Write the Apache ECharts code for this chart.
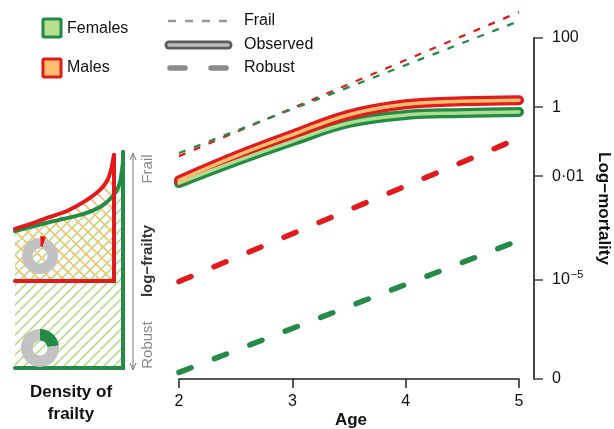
<!DOCTYPE html>
<html>
<head>
<meta charset="utf-8">
<script src="https://cdn.jsdelivr.net/npm/echarts@6/dist/echarts.min.js"></script>
<style>html,body{margin:0;padding:0;background:#fff}#c{width:614px;height:429px}</style>
</head>
<body>
<div id="c"></div>
<script>
// ---- data (log10 mortality) ----
const ages = [2, 2.5, 3, 3.5, 4, 4.5, 5];
const observedMales = [-2.12, -1.42, -0.80, -0.22, 0.08, 0.17, 0.20];
const observedFemales = [-2.20, -1.57, -0.99, -0.46, -0.23, -0.17, -0.14];
const frailAges = [2, 5];
const frailMales = [-1.42, 2.75];
const frailFemales = [-1.33, 2.49];
const robustMales = [-5.05, -0.90];
const robustFemales = [-7.68, -3.86];
const yTickValues = [2, 0, -2, -5, -7.87];
const yTickLabels = ['100', '1', '0·01', '10^-5', '0'];
const xTickLabels = ['2', '3', '4', '5'];
// inset: density of frailty (x: density, y: log-frailty, both 0..1)
const maleCurveX = [0, 0.164, 0.318, 0.473, 0.655, 0.773, 0.836, 0.873, 0.891, 0.9];
const maleCurveY = [0.638, 0.665, 0.693, 0.720, 0.771, 0.817, 0.858, 0.908, 0.954, 0.977];
const maleFloor = 0.399;
const femaleCurveX = [0, 0.318, 0.618, 0.773, 0.864, 0.927, 0.955, 0.973, 0.982, 0.982];
const femaleCurveY = [0.628, 0.670, 0.706, 0.739, 0.775, 0.817, 0.853, 0.908, 0.954, 0.991];
const femaleFloor = 0;
const malePie = [5, 95];     // share frail / rest
const femalePie = [23, 77];

const RED = '#e31a1c', GREEN = '#238b45', LORANGE = '#fdbf6f', LGREEN = '#addd8e';

function zip(xs, ys) { return xs.map((x, i) => [x, ys[i]]); }
function hatch(color, spacing, dir, w) {
  const c = document.createElement('canvas');
  c.width = spacing; c.height = spacing;
  const g = c.getContext('2d');
  g.strokeStyle = color; g.lineWidth = w;
  for (let k = -1; k <= 1; k++) {
    g.beginPath();
    if (dir > 0) { g.moveTo(k * spacing, spacing); g.lineTo(k * spacing + spacing, 0); }
    else { g.moveTo(k * spacing, 0); g.lineTo(k * spacing + spacing, spacing); }
    g.stroke();
  }
  return { image: c, repeat: 'repeat' };
}

const chart = echarts.init(document.getElementById('c'), null, { renderer: 'canvas' });
const FONT = 'Liberation Sans, Arial, Helvetica, sans-serif';

function obsSeries(data, outer, inner) {
  return [
    { type: 'line', xAxisIndex: 0, yAxisIndex: 0, data: data, smooth: 0.4, symbol: 'none', clip: false,
      lineStyle: { color: outer, width: 10, cap: 'round', join: 'round' }, z: 5 },
    { type: 'line', xAxisIndex: 0, yAxisIndex: 0, data: data, smooth: 0.4, symbol: 'none', clip: false,
      lineStyle: { color: inner, width: 3.5, cap: 'round', join: 'round' }, z: 6 }
  ];
}
function dashSeries(data, color, width, dash, cap) {
  return { type: 'line', xAxisIndex: 0, yAxisIndex: 0, data: data, symbol: 'none', clip: false,
    lineStyle: { color: color, width: width, type: dash, cap: cap }, z: 4 };
}
const last = a => a[a.length - 1];

const series = [
  dashSeries(zip(frailAges, frailMales), RED, 2.3, [7, 9], 'butt'),
  dashSeries(zip(frailAges, frailFemales), GREEN, 2.3, [7, 9], 'butt'),
  dashSeries(zip(frailAges, robustMales), RED, 5.5, [13, 25], 'round'),
  dashSeries(zip(frailAges, robustFemales), GREEN, 5.5, [13, 25], 'round'),
  ...obsSeries(zip(ages, observedFemales), GREEN, LGREEN),
  ...obsSeries(zip(ages, observedMales), RED, LORANGE),
  // inset areas
  { type: 'line', xAxisIndex: 1, yAxisIndex: 1, data: zip(femaleCurveX, femaleCurveY), symbol: 'none', smooth: 0.2,
    lineStyle: { width: 0, opacity: 0 }, areaStyle: { color: hatch('#b3dd8c', 10, 1, 1.6), opacity: 1, origin: 'start' }, z: 1 },
  { type: 'line', xAxisIndex: 1, yAxisIndex: 1, data: zip(maleCurveX, maleCurveY), symbol: 'none', smooth: 0.2,
    lineStyle: { width: 0, opacity: 0 }, areaStyle: { color: hatch('#fdbf6f', 12, -1, 1.8), opacity: 1, origin: maleFloor }, z: 2 },
  // inset outlines
  { type: 'line', xAxisIndex: 1, yAxisIndex: 1, symbol: 'none', smooth: 0.2, clip: false,
    data: zip(femaleCurveX, femaleCurveY),
    lineStyle: { color: GREEN, width: 4, cap: 'round', join: 'round' }, z: 3 },
  { type: 'line', xAxisIndex: 1, yAxisIndex: 1, symbol: 'none', clip: false,
    data: [[last(femaleCurveX), last(femaleCurveY)], [last(femaleCurveX), femaleFloor], [0, femaleFloor]],
    lineStyle: { color: GREEN, width: 4, cap: 'round', join: 'miter' }, z: 3 },
  { type: 'line', xAxisIndex: 1, yAxisIndex: 1, symbol: 'none', smooth: 0.2, clip: false,
    data: zip(maleCurveX, maleCurveY),
    lineStyle: { color: RED, width: 4, cap: 'round', join: 'round' }, z: 4 },
  { type: 'line', xAxisIndex: 1, yAxisIndex: 1, symbol: 'none', clip: false,
    data: [[last(maleCurveX), last(maleCurveY)], [last(maleCurveX), maleFloor], [0, maleFloor]],
    lineStyle: { color: RED, width: 4, cap: 'round', join: 'miter' }, z: 4 },
  // donuts
  { type: 'pie', center: [40, 256], radius: [7.5, 18], startAngle: 90, clockwise: true,
    label: { show: false }, labelLine: { show: false }, silent: true, animation: false,
    selectedMode: 'single', selectedOffset: 2,
    data: [{ value: malePie[0], itemStyle: { color: RED }, selected: true }, { value: malePie[1], itemStyle: { color: '#c2c2c2' } }], z: 6 },
  { type: 'pie', center: [40, 348], radius: [7.5, 19], startAngle: 90, clockwise: true,
    label: { show: false }, labelLine: { show: false }, silent: true, animation: false,
    data: [{ value: femalePie[0], itemStyle: { color: GREEN } }, { value: femalePie[1], itemStyle: { color: '#c2c2c2' } }], z: 6 }
];

function fmtY(v) {
  for (let i = 0; i < yTickValues.length; i++) {
    if (Math.abs(v - yTickValues[i]) < 1e-6) {
      const t = yTickLabels[i];
      if (t.indexOf('^') >= 0) { const p = t.split('^'); return '{n|' + p[0] + '}{s|' + p[1].replace('-', '−') + '}'; }
      return '{n|' + t + '}';
    }
  }
  return '';
}

const gray = '#8a8a8a';
const graphic = [
  // legend boxes
  { type: 'rect', shape: { x: 43, y: 19, width: 18, height: 18, r: 1 }, style: { fill: '#b7e08f', stroke: GREEN, lineWidth: 3 } },
  { type: 'text', x: 67, y: 29, style: { text: 'Females', font: '16px ' + FONT, fill: '#111', verticalAlign: 'middle' } },
  { type: 'rect', shape: { x: 43, y: 59, width: 18, height: 18, r: 1 }, style: { fill: LORANGE, stroke: RED, lineWidth: 3 } },
  { type: 'text', x: 67, y: 68, style: { text: 'Males', font: '16px ' + FONT, fill: '#111', verticalAlign: 'middle' } },
  // legend lines
  { type: 'line', shape: { x1: 168, y1: 21, x2: 228, y2: 21 }, style: { stroke: '#999', lineWidth: 2.3, lineDash: [8, 9] } },
  { type: 'text', x: 244, y: 21, style: { text: 'Frail', font: '16px ' + FONT, fill: '#111', verticalAlign: 'middle' } },
  { type: 'line', shape: { x1: 169, y1: 45, x2: 228, y2: 45 }, style: { stroke: '#5a5a5a', lineWidth: 9, lineCap: 'round' } },
  { type: 'line', shape: { x1: 169, y1: 45, x2: 228, y2: 45 }, style: { stroke: '#bdbdbd', lineWidth: 3.5, lineCap: 'round' } },
  { type: 'text', x: 244, y: 45, style: { text: 'Observed', font: '16px ' + FONT, fill: '#111', verticalAlign: 'middle' } },
  { type: 'line', shape: { x1: 170, y1: 68, x2: 228, y2: 68 }, style: { stroke: gray, lineWidth: 5.5, lineCap: 'round', lineDash: [15, 26] } },
  { type: 'text', x: 244, y: 68, style: { text: 'Robust', font: '16px ' + FONT, fill: '#111', verticalAlign: 'middle' } },
  // x axis title
  { type: 'text', x: 351, y: 420, style: { text: 'Age', font: 'bold 17px ' + FONT, fill: '#111', align: 'center', verticalAlign: 'middle' } },
  // inset arrow
  { type: 'line', shape: { x1: 133, y1: 153, x2: 133, y2: 370 }, style: { stroke: '#777', lineWidth: 1 } },
  { type: 'polyline', shape: { points: [[130, 160], [133, 153], [136, 160]] }, style: { stroke: '#777', lineWidth: 1, fill: null } },
  { type: 'polyline', shape: { points: [[130, 363], [133, 370], [136, 363]] }, style: { stroke: '#777', lineWidth: 1, fill: null } },
  { type: 'text', x: 148, y: 169, rotation: Math.PI / 2, style: { text: 'Frail', font: '15px ' + FONT, fill: '#888', align: 'center', verticalAlign: 'middle' } },
  { type: 'text', x: 148, y: 261, rotation: Math.PI / 2, style: { text: 'log−frailty', font: 'bold 15px ' + FONT, fill: '#333', align: 'center', verticalAlign: 'middle' } },
  { type: 'text', x: 148, y: 345, rotation: Math.PI / 2, style: { text: 'Robust', font: '15px ' + FONT, fill: '#888', align: 'center', verticalAlign: 'middle' } },
  { type: 'text', x: 71, y: 392, style: { text: 'Density of', font: 'bold 17px ' + FONT, fill: '#111', align: 'center', verticalAlign: 'middle' } },
  { type: 'text', x: 71, y: 414, style: { text: 'frailty', font: 'bold 17px ' + FONT, fill: '#111', align: 'center', verticalAlign: 'middle' } }
];

chart.setOption({
  animation: false,
  grid: [
    { left: 179, right: 95, top: 38, bottom: 50, outerBoundsMode: 'none', containLabel: false },
    { left: 15, width: 110, top: 150, height: 218, outerBoundsMode: 'none', containLabel: false }
  ],
  xAxis: [
    { type: 'value', gridIndex: 0, min: 2, max: 5, interval: 1,
      axisLine: { show: true, onZero: false, lineStyle: { color: '#222', width: 1.5 } },
      axisTick: { show: true, length: 9, lineStyle: { color: '#222', width: 1.5 } },
      axisLabel: { fontSize: 16, color: '#111', fontFamily: FONT, margin: 15, formatter: v => xTickLabels[Math.round(v) - 2] },
      splitLine: { show: false } },
    { type: 'value', gridIndex: 1, min: 0, max: 1, show: false }
  ],
  yAxis: [
    { type: 'value', gridIndex: 0, position: 'right', offset: 15, min: -7.87, max: 2,
      axisLine: { show: true, onZero: false, lineStyle: { color: '#444', width: 2 } },
      axisTick: { show: true, length: 9, customValues: yTickValues, lineStyle: { color: '#444', width: 1.5 } },
      axisLabel: { customValues: yTickValues, margin: 18, color: '#111', fontFamily: FONT, formatter: fmtY,
        rich: { n: { fontSize: 16, color: '#111', fontFamily: FONT }, s: { fontSize: 11, color: '#111', fontFamily: FONT, padding: [0, 0, 9, 1] } } },
      splitLine: { show: false },
      name: 'Log−mortality', nameLocation: 'middle', nameRotate: -90, nameGap: 60,
      nameTextStyle: { fontSize: 17, fontWeight: 'bold', color: '#111', fontFamily: FONT } },
    { type: 'value', gridIndex: 1, min: 0, max: 1, show: false }
  ],
  series: series,
  graphic: graphic
});
</script>
</body>
</html>
